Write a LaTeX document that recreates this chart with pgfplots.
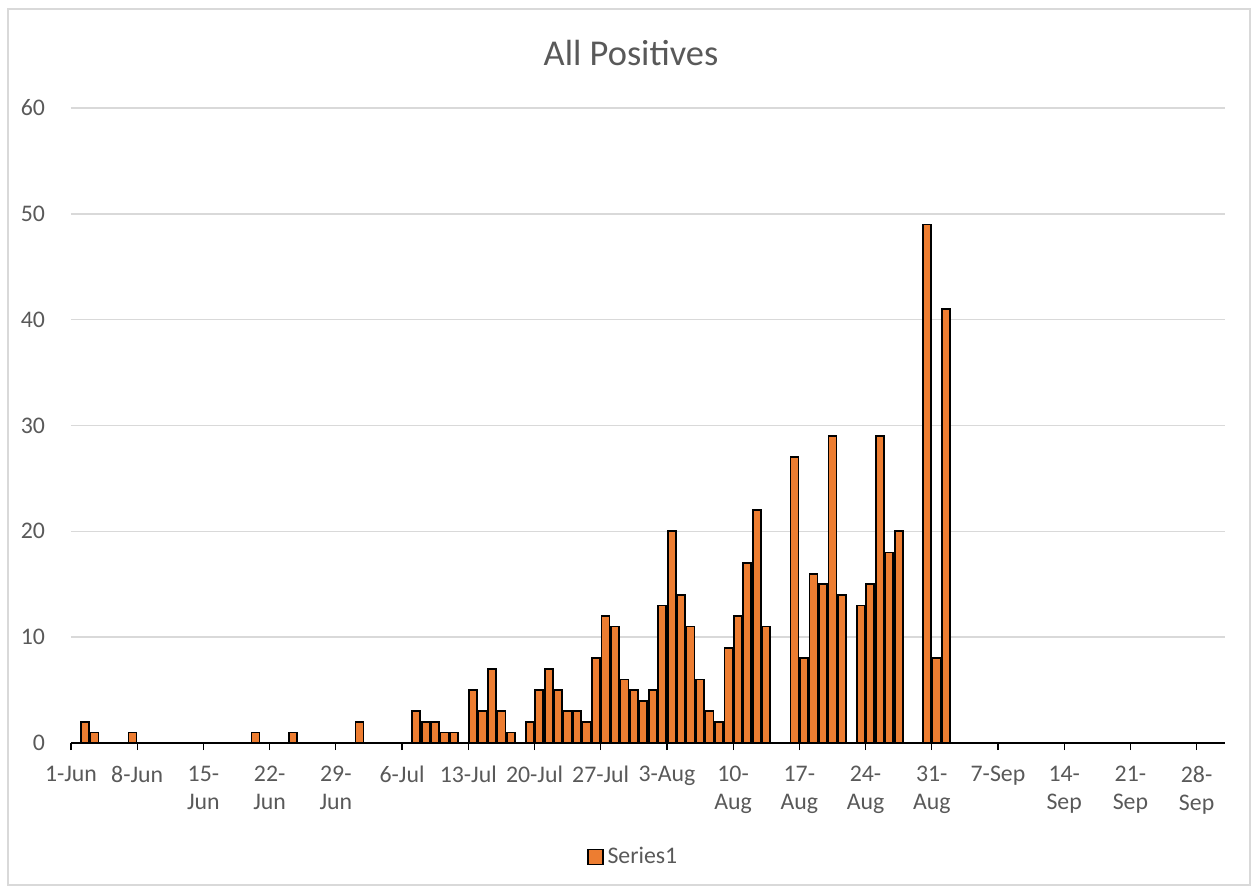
\documentclass[border=0pt]{standalone}
\usepackage{pgfplots}
\pgfplotsset{compat=1.18}
\usepackage{pgfplotstable}
\usepackage{fontspec}
\setmainfont{Carlito}
\definecolor{barorange}{HTML}{ED7D31}
\definecolor{txtgray}{HTML}{595959}
\definecolor{gridgray}{HTML}{D9D9D9}
\pgfplotstableread{
d v
1 2
2 1
6 1
19 1
23 1
30 2
36 3
37 2
38 2
39 1
40 1
42 5
43 3
44 7
45 3
46 1
48 2
49 5
50 7
51 5
52 3
53 3
54 2
55 8
56 12
57 11
58 6
59 5
60 4
61 5
62 13
63 20
64 14
65 11
66 6
67 3
68 2
69 9
70 12
71 17
72 22
73 11
76 27
77 8
78 16
79 15
80 29
81 14
83 13
84 15
85 29
86 18
87 20
90 49
91 8
92 41
}\datatable
\begin{document}
\begin{tikzpicture}
\useasboundingbox (-35.5pt,-73.5pt) rectangle (591pt,371.5pt);
\draw[gridgray, line width=0.7pt] (-31.5pt,-71pt) rectangle (589.5pt,367pt);
\node[text=txtgray, font=\fontsize{18.2}{22}\selectfont] at (280pt,345pt) {All Positives};
\begin{axis}[
  scale only axis,
  width=577pt, height=317.5pt,
  xmin=-0.5, xmax=121.5,
  ymin=0, ymax=60,
  ytick={0,10,...,60},
  xtick={-0.5,6.5,...,118.5},
  xticklabels={1-Jun,8-Jun,15-\\Jun,22-\\Jun,29-\\Jun,6-Jul,13-Jul,20-Jul,27-Jul,3-Aug,10-\\Aug,17-\\Aug,24-\\Aug,31-\\Aug,7-Sep,14-\\Sep,21-\\Sep,28-\\Sep},
  axis x line*=bottom,
  axis y line*=left,
  y axis line style={draw=none},
  x axis line style={black, line width=0.7pt},
  ytick style={draw=none},
  xtick style={black, line width=0.6pt},
  tick align=outside,
  major tick length=3.5pt,
  ymajorgrids,
  grid style={gridgray, line width=0.7pt},
  /pgf/number format/assume math mode=true,
  tick label style={text=txtgray, font=\fontsize{11.9}{14.2}\selectfont},
  xticklabel style={align=center, yshift=-4.5pt},
  yticklabel style={xshift=-6pt},
  ybar,
  bar width=4pt,
  legend style={at={(axis description cs:0.488,0)}, anchor=center, yshift=-57pt, draw=none, fill=none, font=\fontsize{11.9}{14.2}\selectfont, text=txtgray},
  legend image code/.code={\draw[#1] (0pt,-3.7pt) rectangle (7.4pt,3.7pt);},
]
\addplot[fill=barorange, draw=black, line width=0.85pt] table[x=d, y=v] {\datatable};
\addlegendentry{Series1}
\end{axis}
\end{tikzpicture}
\end{document}
